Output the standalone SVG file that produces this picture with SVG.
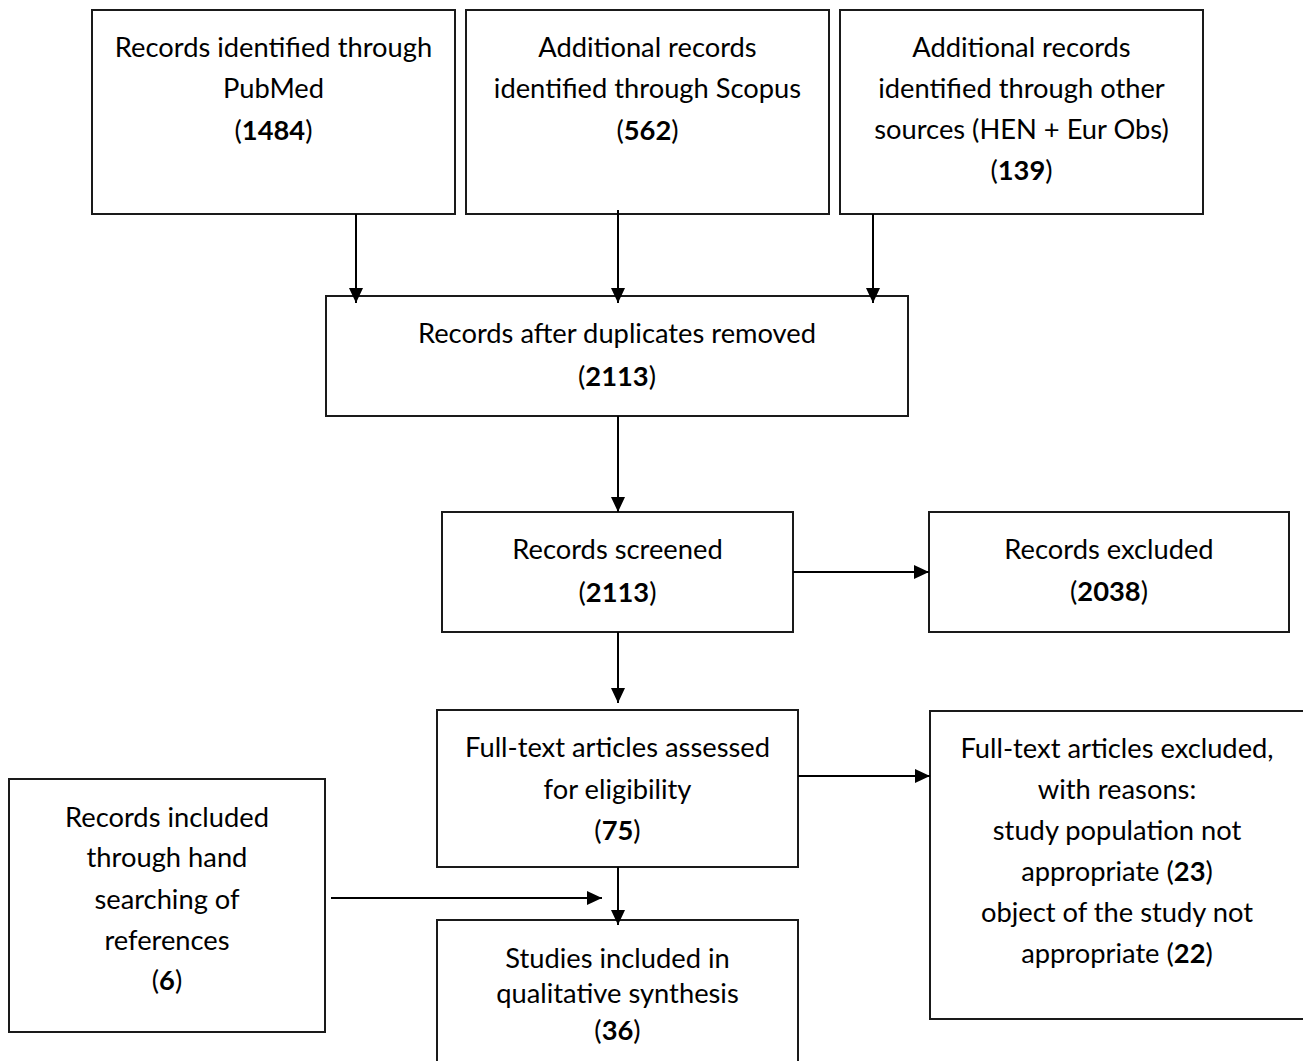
<svg xmlns="http://www.w3.org/2000/svg" width="1303" height="1061" viewBox="0 0 1303 1061">
<defs>
<style>
.box{fill:#fff;stroke:#1a1a1a;stroke-width:2}
.t{font-family:Lato,"Noto Sans","Liberation Sans",sans-serif;font-size:27.3px;fill:#000;text-anchor:middle}
.b{font-weight:bold}
.c{stroke:#000;stroke-width:2;fill:none;marker-end:url(#ah)}
</style>
<marker id="ah" markerUnits="userSpaceOnUse" markerWidth="15" markerHeight="14" viewBox="0 0 15 14" refX="15" refY="7" orient="auto">
<path d="M0,0 L15,7 L0,14 Z" fill="#000"/>
</marker>
</defs>
<rect width="1303" height="1061" fill="#fff"/>
<g id="n_pubmed">
<rect class="box" x="92" y="10" width="363" height="204"/>
<text class="t" x="273.5" y="57">Records identified through</text>
<text class="t" x="273.5" y="98">PubMed</text>
<text class="t" x="273.5" y="140">(<tspan class="b">1484</tspan>)</text>
</g>
<g id="n_scopus">
<rect class="box" x="466" y="10" width="363" height="204"/>
<text class="t" x="647.5" y="57">Additional records</text>
<text class="t" x="647.5" y="98">identified through Scopus</text>
<text class="t" x="647.5" y="140">(<tspan class="b">562</tspan>)</text>
</g>
<g id="n_other">
<rect class="box" x="840" y="10" width="363" height="204"/>
<text class="t" x="1021.5" y="57">Additional records</text>
<text class="t" x="1021.5" y="98">identified through other</text>
<text class="t" x="1021.5" y="139">sources (HEN + Eur Obs)</text>
<text class="t" x="1021.5" y="180">(<tspan class="b">139</tspan>)</text>
</g>
<g id="n_dups">
<rect class="box" x="326" y="296" width="582" height="120"/>
<text class="t" x="617" y="343">Records after duplicates removed</text>
<text class="t" x="617" y="386">(<tspan class="b">2113</tspan>)</text>
</g>
<g id="n_screened">
<rect class="box" x="442" y="512" width="351" height="120"/>
<text class="t" x="617.5" y="559">Records screened</text>
<text class="t" x="617.5" y="602">(<tspan class="b">2113</tspan>)</text>
</g>
<g id="n_excluded">
<rect class="box" x="929" y="512" width="360" height="120"/>
<text class="t" x="1109" y="559">Records excluded</text>
<text class="t" x="1109" y="601">(<tspan class="b">2038</tspan>)</text>
</g>
<g id="n_fulltext">
<rect class="box" x="437" y="710" width="361" height="157"/>
<text class="t" x="617.5" y="757">Full-text articles assessed</text>
<text class="t" x="617.5" y="799">for eligibility</text>
<text class="t" x="617.5" y="840">(<tspan class="b">75</tspan>)</text>
</g>
<g id="n_ft_excluded">
<rect class="box" x="930" y="711" width="380" height="308"/>
<text class="t" x="1117" y="758">Full-text articles excluded,</text>
<text class="t" x="1117" y="799">with reasons:</text>
<text class="t" x="1117" y="840">study population not</text>
<text class="t" x="1117" y="881">appropriate (<tspan class="b">23</tspan>)</text>
<text class="t" x="1117" y="922">object of the study not</text>
<text class="t" x="1117" y="963">appropriate (<tspan class="b">22</tspan>)</text>
</g>
<g id="n_hand">
<rect class="box" x="9" y="779" width="316" height="253"/>
<text class="t" x="167" y="827">Records included</text>
<text class="t" x="167" y="867">through hand</text>
<text class="t" x="167" y="909">searching of</text>
<text class="t" x="167" y="950">references</text>
<text class="t" x="167" y="990">(<tspan class="b">6</tspan>)</text>
</g>
<g id="n_studies">
<rect class="box" x="437" y="920" width="361" height="160"/>
<text class="t" x="617.5" y="968">Studies included in</text>
<text class="t" x="617.5" y="1003">qualitative synthesis</text>
<text class="t" x="617.5" y="1040">(<tspan class="b">36</tspan>)</text>
</g>
<g id="connectors">
<line class="c" x1="356" y1="214" x2="356" y2="303"/>
<line class="c" x1="618" y1="210" x2="618" y2="303"/>
<line class="c" x1="873" y1="214" x2="873" y2="303"/>
<line class="c" x1="618" y1="416" x2="618" y2="512"/>
<line class="c" x1="793" y1="572" x2="929" y2="572"/>
<line class="c" x1="618" y1="632" x2="618" y2="703"/>
<line class="c" x1="798" y1="776" x2="930" y2="776"/>
<line class="c" x1="618" y1="867" x2="618" y2="925"/>
<line class="c" x1="331" y1="898" x2="602" y2="898"/>
</g>
</svg>
